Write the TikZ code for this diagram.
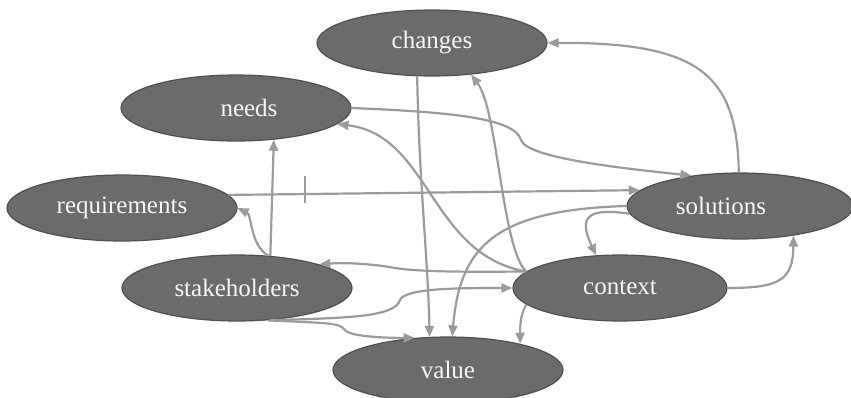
\documentclass[tikz,border=0pt]{standalone}
\usepackage{fontspec}
\setmainfont{Liberation Serif}
\usetikzlibrary{shapes.geometric,arrows.meta}
\definecolor{nodegray}{RGB}{107,107,107}
\definecolor{rimgray}{RGB}{80,80,80}
\definecolor{linkgray}{RGB}{155,155,155}
\begin{document}
\begin{tikzpicture}[x=1pt,y=-1pt,
  concept/.style={ellipse, fill=nodegray, draw=rimgray, line width=1.2pt,
    minimum width=230pt, minimum height=66pt, inner sep=0pt,
    text=white!97!black, font=\fontsize{25}{30}\selectfont},
  link/.style={draw=linkgray, line width=2.2pt, -{Triangle[length=11pt,width=9pt]}},
  tickmark/.style={draw=linkgray, line width=2.2pt}]

  \useasboundingbox (0,0) rectangle (851,397);

  % Draw concepts
  \node[concept] (changes) at (432,43) {changes};
  \node[concept] (needs) at (236,108) {\hspace*{26pt}needs};
  \node[concept] (requirements) at (122,208) {requirements};
  \node[concept, minimum width=226pt] (solutions) at (740,206) {\hspace*{-38pt}solutions};
  \node[concept] (stakeholders) at (237,288) {stakeholders};
  \node[concept, minimum width=214pt] (context) at (620,288) {context};
  \node[concept] (value) at (448,370) {value};

  % Links out of stakeholders
  \draw[link] (stakeholders.44) -- (needs.-40);
  \draw[link] (stakeholders.46) .. controls (250,245) and (252,215) .. (requirements.east);
  \draw[link] (stakeholders.-44) .. controls (340,318) and (395,318) .. (400,300)
    .. controls (405,288) and (460,288) .. (context.west);
  \draw[link] (stakeholders.-46) .. controls (320,323) and (340,322) .. (345,330)
    .. controls (350,337) and (390,338) .. (value.136);

  % Links out of context
  \draw[link] (context.170) .. controls (502,250) and (498,110) .. (changes.-39);
  \draw[link] (context.170) .. controls (430,255) and (430,135) .. (needs.-9);
  \draw[link] (context.170) .. controls (470,272) and (420,272) .. (395,268)
    .. controls (380,265) and (350,262) .. (stakeholders.16);
  \draw[link] (context.-170) .. controls (522,312) and (520,320) .. (value.20);
  \draw[link] (context.east) .. controls (780,288) and (793,280) .. (solutions.-29);

  % Links out of solutions
  \draw[link] (solutions.92) .. controls (737,75) and (700,42) .. (changes.east);
  \draw[link] (solutions.180) .. controls (490,210) and (460,250) .. (value.83);
  \draw[link] (solutions.184) .. controls (590,208) and (577,215) .. (context.126);

  % The rest
  \draw[link] (changes.-114) .. controls (419,180) and (428,260) .. (value.119);
  \draw[link] (needs.east) .. controls (450,112) and (515,118) .. (521,140)
    .. controls (527,158) and (620,168) .. (solutions.148);
  \draw[link] (requirements.7) -- coordinate[pos=0.186] (mark) (solutions.171);
  \draw[tickmark] ([yshift=18pt]mark) -- ([yshift=-9pt]mark);
\end{tikzpicture}
\end{document}
